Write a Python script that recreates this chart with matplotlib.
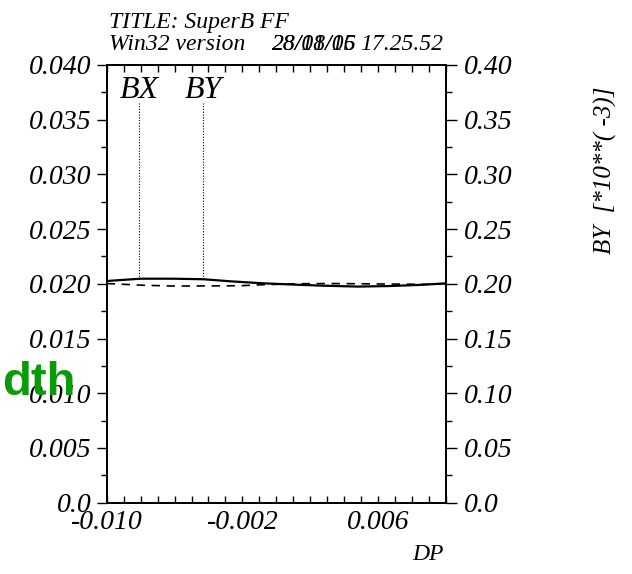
import matplotlib.pyplot as plt
from matplotlib.ticker import MultipleLocator, FixedLocator

# data
dp_bx = [-0.0100, -0.0080, -0.0061, -0.0040, -0.0021, -0.0008, 0.0012, 0.0030, 0.0048, 0.0067, 0.0087, 0.0100]
bx = [0.02003, 0.01988, 0.01980, 0.01981, 0.01983, 0.01992, 0.02001, 0.02003, 0.02001, 0.01998, 0.01996, 0.02001]

dp_by = [-0.0100, -0.0080, -0.0061, -0.0043, -0.0027, -0.0008, 0.0012, 0.0028, 0.0048, 0.0067, 0.0087, 0.0100]
by = [0.2026, 0.2047, 0.2047, 0.2042, 0.2023, 0.2005, 0.1992, 0.1983, 0.1975, 0.1980, 0.1992, 0.2005]

# element markers drawn at the top
marker_names = ['BX', 'BY']
marker_x = [-0.0081, -0.0043]
marker_top = 0.0365
marker_bottom = [0.02047, 0.02042]

x_ticks = [-0.010, -0.002, 0.006]
x_labels = ['-0.010', '-0.002', '0.006']
left_ticks = [0.0, 0.005, 0.010, 0.015, 0.020, 0.025, 0.030, 0.035, 0.040]
left_labels = ['0.0', '0.005', '0.010', '0.015', '0.020', '0.025', '0.030', '0.035', '0.040']
right_ticks = [0.0, 0.05, 0.10, 0.15, 0.20, 0.25, 0.30, 0.35, 0.40]
right_labels = ['0.0', '0.05', '0.10', '0.15', '0.20', '0.25', '0.30', '0.35', '0.40']

serif = 'Liberation Serif'

fig = plt.figure(figsize=(6.32, 5.74), dpi=100)
ax = fig.add_axes([0.1688, 0.1242, 0.5369, 0.7626])
ax2 = ax.twinx()

# curves
ax.plot(dp_bx, bx, color='black', lw=1.2, ls=(0, (5, 4)))
ax2.plot(dp_by, by, color='black', lw=1.6)

# markers
for name, mx, mb in zip(marker_names, marker_x, marker_bottom):
    ax.plot([mx, mx], [mb, marker_top], color='black', lw=0.8, ls=(0, (1, 1.5)))
    ax.text(mx, 0.0370, name, ha='center', va='baseline', fontsize=23,
            family=serif, style='italic')

ax.set_xlim(-0.010, 0.010)
ax.set_ylim(0.0, 0.040)
ax2.set_ylim(0.0, 0.40)

for a in (ax, ax2):
    for s in a.spines.values():
        s.set_linewidth(1.3)

# x axis ticks (inward)
ax.xaxis.set_major_locator(FixedLocator(x_ticks))
ax.set_xticklabels(x_labels, family=serif, style='italic', fontsize=20)
ax.xaxis.set_minor_locator(MultipleLocator(0.001))
ax.tick_params(axis='x', which='both', direction='in', top=True, length=5, width=1, pad=5)

# left axis
ax.yaxis.set_major_locator(FixedLocator(left_ticks))
ax.set_yticklabels(left_labels, family=serif, style='italic', fontsize=20)
ax.yaxis.set_minor_locator(MultipleLocator(0.0025))
ax.tick_params(axis='y', which='major', direction='out', length=7, width=1, pad=4)
ax.tick_params(axis='y', which='minor', direction='out', length=4, width=1)

# right axis
ax2.yaxis.set_major_locator(FixedLocator(right_ticks))
ax2.set_yticklabels(right_labels, family=serif, style='italic', fontsize=20)
ax2.yaxis.set_minor_locator(MultipleLocator(0.025))
ax2.tick_params(axis='y', which='major', direction='out', length=8, width=1, pad=5)
ax2.tick_params(axis='y', which='minor', direction='out', length=4, width=1)

# header text
fig.text(109 / 632, 1 - 28 / 574, 'TITLE: SuperB FF', family=serif, style='italic',
         fontsize=17, va='baseline')
fig.text(109 / 632, 1 - 50 / 574, 'Win32 version', family=serif, style='italic',
         fontsize=17, va='baseline')
fig.text(272 / 632, 1 - 50 / 574, '28/01/06', family=serif, style='italic',
         fontsize=17, va='baseline')
fig.text(272 / 632, 1 - 50 / 574, '28/18/15', family=serif, style='italic',
         fontsize=17, va='baseline')
fig.text(443 / 632, 1 - 50 / 574, '17.25.52', family=serif, style='italic',
         fontsize=17, va='baseline', ha='right')

# axis titles
fig.text(428 / 632, 1 - 555 / 574, 'DP', family=serif, style='italic',
         fontsize=17, ha='center', va='center')
fig.text(605 / 632, 1 - 170 / 574, 'BY  [*10**( -3)]', family=serif, style='italic',
         fontsize=18, ha='center', va='center', rotation=90)

# green overlay text at the left edge
fig.text(2 / 632, 1 - 383 / 574, 'dth', family='Liberation Sans', weight='bold',
         fontsize=34, color='#0a9a0a', ha='left', va='center')

fig.savefig('out.png', dpi=100)
